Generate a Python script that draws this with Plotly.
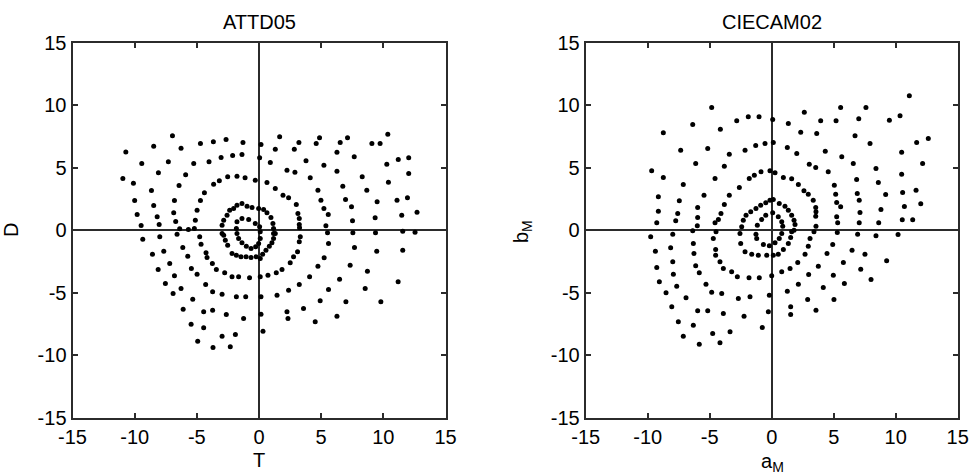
import plotly.graph_objects as go

# ---------------- data ----------------
attd_T = [-10.71,-10.95,-10.1,-10.0,-9.8,-9.48,-9.43,-8.47,-6.96,-8.09,-8.65,-8.47,-8.19,-8.03,-7.29,-6.27,-5.9,-6.43,-6.8,-6.86,-6.70,-6.38,-5.68,-5.25,-4.71,-3.67,-2.65,-4.02,-3.05,-2.12,-4.39,-4.71,-4.98,-5.12,-5.2,-3.65,-3.19,-2.52,-1.77,-1.12,-0.3,-1.29,0.16,1.66,1.31,3.21,2.84,4.87,4.6,7.12,6.53,6.27,7.66,9.08,9.74,10.36,11.2,12.04,12.04,10.28,10.41,11.1,11.94,11.48,12.71,11.56,12.55,8.3,8.67,9.5,9.34,9.37,6.27,6.74,6.96,7.44,7.52,7.55,5.22,4.12,4.74,4.98,5.22,5.57,5.38,5.51,3.78,2.89,2.25,0.91,0.05,-1.37,0.64,1.31,1.93,2.38,3.0,3.13,3.24,3.24,3.26,3.32,
          -1.37,-0.96,-0.56,-0.03,0.37,0.64,0.96,1.12,1.17,1.17,-1.77,-2.04,-2.36,-2.57,-2.84,-2.97,-2.84,-2.71,-2.52,-2.17,-1.82,-1.45,-1.04,-0.64,-0.24,0.1,0.29,0.56,0.83,1.04,1.17,1.31,
          -1.37,-0.83,-0.3,0.05,0.1,-1.77,-1.82,-1.77,-1.64,-1.37,-1.02,-0.64,-0.27,-0.03,0.1,
          -9.35,-7.98,-6.59,-4.77,-4.66,-2.97,-8.57,-7.66,-6.13,-5.73,-4.26,-4.18,-8.11,-7.18,-6.8,-7.53,-6.91,-6.27,-5.44,-4.98,-5.33,-6.1,-5.46,-4.45,-4.45,-4.93,-3.7,-2.97,-2.31,-1.9,-3.73,-2.63,-3.73,-2.97,-1.82,-4.29,-3.75,-3.43,-2.76,-2.17,-1.64,
          -0.76,0.1,0.72,1.39,1.85,2.51,2.78,3.1,3.24,-1.07,0.16,1.45,2.38,3.24,4.07,4.74,5.24,5.59,-1.24,0.16,0.32,2.25,2.33,3.58,4.52,4.92,5.59,6.48,6.27,6.99,7.33,7.68,8.54,8.72,9.47,9.8,11.19,11.56]
attd_D = [6.26,4.13,3.76,2.37,1.25,0.37,5.33,6.72,7.55,4.59,3.17,1.97,1.07,0.45,5.47,6.56,4.43,3.57,2.37,1.39,0.69,0.11,0.05,5.33,6.93,7.07,7.25,5.47,5.81,5.97,2.99,2.37,1.6,0.8,0.13,3.68,3.95,4.27,4.32,4.19,4.0,7.01,6.85,7.47,6.48,7.01,6.48,7.39,6.93,7.39,7.01,6.24,5.87,6.93,6.93,7.68,5.65,5.79,4.53,5.28,3.84,2.4,2.59,1.2,1.44,-0.08,-0.16,4.27,3.2,2.27,0.99,-0.21,4.72,3.52,2.45,1.87,0.75,-0.21,5.2,4.19,3.2,2.4,1.73,1.25,0.35,-0.21,5.55,4.64,4.8,5.42,5.79,6.05,3.81,3.33,2.8,2.59,2.05,1.33,0.93,0.45,0.19,-0.53,
          2.13,1.92,1.81,1.73,1.65,1.39,1.01,0.53,0.13,-0.27,2.0,1.73,1.6,1.2,0.8,0.4,-0.4,-0.8,-1.2,-1.87,-2.0,-2.13,-2.13,-2.19,-2.13,-2.27,-1.92,-1.6,-1.28,-1.01,-0.67,-0.27,
          0.93,0.85,0.53,0.27,-0.13,0.67,0.13,-0.27,-0.67,-1.01,-1.28,-1.47,-1.33,-1.07,-0.67,
          -0.72,-0.53,-0.32,-0.53,-1.12,-0.27,-1.92,-1.68,-1.39,-2.08,-1.81,-2.19,-3.15,-2.67,-3.65,-4.27,-5.07,-4.67,-3.07,-3.52,-5.52,-6.32,-7.52,-6.53,-7.81,-8.88,-9.39,-8.48,-9.33,-8.35,-6.4,-6.75,-4.93,-5.12,-5.33,-4.35,-2.67,-3.15,-3.41,-3.73,-3.73,
          -3.81,-3.73,-3.6,-3.41,-3.15,-2.61,-2.13,-1.73,-0.93,-5.33,-5.33,-5.2,-4.8,-4.35,-3.73,-2.88,-2.21,-1.07,-7.07,-6.72,-8.08,-6.53,-7.07,-6.27,-7.33,-5.65,-4.75,-3.92,-6.88,-5.73,-2.8,-1.39,-4.67,-3.28,-1.68,-5.73,-4.13,-1.6]

ciecam_a = [-9.68,-8.74,-8.74,-9.14,-9.14,-9.27,-9.76,-7.98,-7.34,-7.13,-7.45,-7.58,-7.74,-6.37,-6.13,-5.46,-5.97,-5.97,-6.0,-6.37,-4.84,-5.16,-4.14,-4.57,-3.82,-3.42,-3.42,-3.82,-4.09,-4.3,-4.57,-4.49,-4.71,-2.82,-1.89,-1.02,0.08,1.34,2.63,2.34,3.63,3.95,5.19,5.56,7.02,7.6,6.72,7.93,9.49,10.35,11.1,11.69,12.63,10.48,12.17,10.48,8.41,8.6,9.19,10.56,11.64,12.02,10.7,8.81,10.53,11.37,8.63,8.41,10.19,5.65,6.58,6.85,6.9,7.06,7.12,7.06,6.93,4.32,4.56,5.05,5.16,5.24,5.56,5.24,5.32,5.29,1.26,2.02,3.03,3.55,0.13,-0.54,-1.29,-2.15,
            -0.14,0.27,-0.86,-1.4,-1.81,-2.61,0.94,1.61,2.15,2.6,2.95,3.35,3.55,3.57,3.55,3.57,
            -0.14,0.13,-0.48,-0.89,-1.27,-1.69,-2.07,-2.29,-2.42,0.61,1.07,1.34,1.61,1.8,1.88,1.8,
            0.08,-0.48,-0.81,-1.16,0.53,0.81,0.89,0.81,-1.27,-1.21,-0.67,-0.19,0.27,0.61,
            -2.56,-2.5,-2.15,-1.61,-1.08,-0.4,0.13,0.53,0.94,1.34,1.53,1.61,
            -4.17,-3.9,-3.23,-2.77,-1.83,-1.0,0.0,0.81,1.48,2.1,2.69,2.95,3.09,3.41,
            -4.03,-3.9,-2.69,-1.75,-0.19,1.26,2.15,2.98,3.76,4.46,4.92,
            -2.23,-0.27,1.53,1.53,2.9,3.57,4.16,5.02,4.97,5.86,5.78,6.48,7.18,8.01,7.52,9.27,-0.76,-3.36,-4.17,
            -9.38,-9.27,-9.06,-8.52,-8.15,-7.98,-7.93,-7.66,-8.06,-7.53,-7.13,-6.91,-6.32,-6.27,-6.13,-5.84,-5.3,-4.84,-5.97,-5.16,-6.32,-5.84,-4.76,-4.52,-4.52]
ciecam_b = [4.75,7.79,4.21,2.67,1.52,0.59,-0.53,-0.32,6.4,3.65,2.35,1.33,0.75,8.45,5.33,2.8,1.81,1.01,0.35,-0.05,9.81,6.53,8.08,4.13,5.12,6.08,2.8,2.05,1.33,0.85,0.59,-0.13,-0.67,8.75,9.07,9.07,8.85,8.53,9.44,7.84,7.73,8.75,8.75,9.81,8.91,9.81,7.55,6.93,8.8,9.15,10.75,7.01,7.33,6.24,5.33,4.48,4.93,3.81,2.85,3.01,3.2,2.11,1.89,1.65,0.83,0.83,0.59,-0.45,-0.35,5.87,5.33,4.05,2.93,2.4,1.41,0.59,-0.32,6.32,4.67,3.6,2.88,2.21,1.87,1.07,0.59,-0.19,6.61,6.13,5.28,5.01,7.01,6.93,6.77,6.4,
            4.75,4.59,4.67,4.4,4.13,3.41,4.21,4.11,3.65,3.15,2.88,2.4,1.81,1.47,1.12,0.32,
            2.4,2.45,2.19,2.0,1.73,1.47,1.2,0.8,0.27,2.13,1.92,1.6,1.2,0.8,0.45,0.0,
            1.39,1.2,0.85,0.4,1.07,0.67,0.32,-0.27,-0.32,-0.67,-1.15,-1.25,-1.01,-0.67,
            -0.27,-1.07,-1.73,-1.92,-2.0,-2.0,-2.0,-1.92,-1.55,-1.07,-0.59,-0.13,
            -2.53,-3.07,-3.33,-3.73,-3.81,-3.81,-3.65,-3.33,-3.07,-2.59,-1.92,-1.28,-0.67,-0.13,
            -5.07,-6.67,-5.47,-5.33,-5.2,-4.88,-4.32,-3.55,-2.88,-1.87,-1.15,
            -6.88,-6.53,-6.13,-6.75,-5.55,-6.4,-4.59,-5.55,-3.6,-4.27,-2.59,-1.6,-3.12,-3.95,-1.92,-2.45,-7.79,-8.13,-9.01,
            -1.68,-2.99,-4.13,-5.01,-1.41,-2.53,-3.52,-4.48,-6.13,-7.33,-8.48,-5.41,-1.07,-1.87,-2.85,-3.41,-4.32,-4.96,-6.45,-6.45,-7.6,-9.12,-8.27,-1.55,-2.0]

titles = ["ATTD05", "CIECAM02"]
tick_vals = [-15, -10, -5, 0, 5, 10, 15]
tick_text = ["-15", "-10", "-5", "0", "5", "10", "15"]

# ---------------- figure ----------------
W, H = 973, 476
FONT = "Liberation Sans, Arial, sans-serif"
AX = "#2b2b2b"

fig = go.Figure()
mk = dict(color="black", size=5, symbol="circle")
fig.add_trace(go.Scatter(x=attd_T, y=attd_D, mode="markers", marker=mk,
                         xaxis="x", yaxis="y", showlegend=False))
fig.add_trace(go.Scatter(x=ciecam_a, y=ciecam_b, mode="markers", marker=mk,
                         xaxis="x2", yaxis="y2", showlegend=False))

def ax(domain, anchor):
    return dict(domain=domain, anchor=anchor, range=[-15, 15], automargin=False,
                tickvals=tick_vals, ticktext=tick_text, ticks="inside",
                ticklen=5, tickwidth=1.5, tickcolor=AX,
                showline=True, linecolor=AX, linewidth=2, mirror="ticks",
                showgrid=False, zeroline=True, zerolinecolor=AX, zerolinewidth=2,
                tickfont=dict(family=FONT, size=20, color="black"))

yd = [1 - 417.7 / H, 1 - 42.7 / H]
fig.update_layout(
    width=W, height=H, margin=dict(l=0, r=0, t=0, b=0, autoexpand=False),
    paper_bgcolor="white", plot_bgcolor="white",
    xaxis=ax([72.5 / W, 445.5 / W], "y"),
    yaxis=ax(yd, "x"),
    xaxis2=ax([585.7 / W, 957.7 / W], "y2"),
    yaxis2=ax(yd, "x2"),
)

def ann(text, px, py, angle=0, size=20):
    fig.add_annotation(text=text, x=px / W, y=1 - py / H, xref="paper", yref="paper",
                       xanchor="center", yanchor="middle", showarrow=False,
                       textangle=angle, font=dict(family=FONT, size=size, color="black"))

ann(titles[0], 259, 22)
ann(titles[1], 772, 22)
ann("T", 259, 460)
ann("a<sub>M</sub>", 772, 462)
ann("D", 11, 230, -90)
ann("b<sub>M</sub>", 522, 232, -90)

fig.write_html("out.html")
